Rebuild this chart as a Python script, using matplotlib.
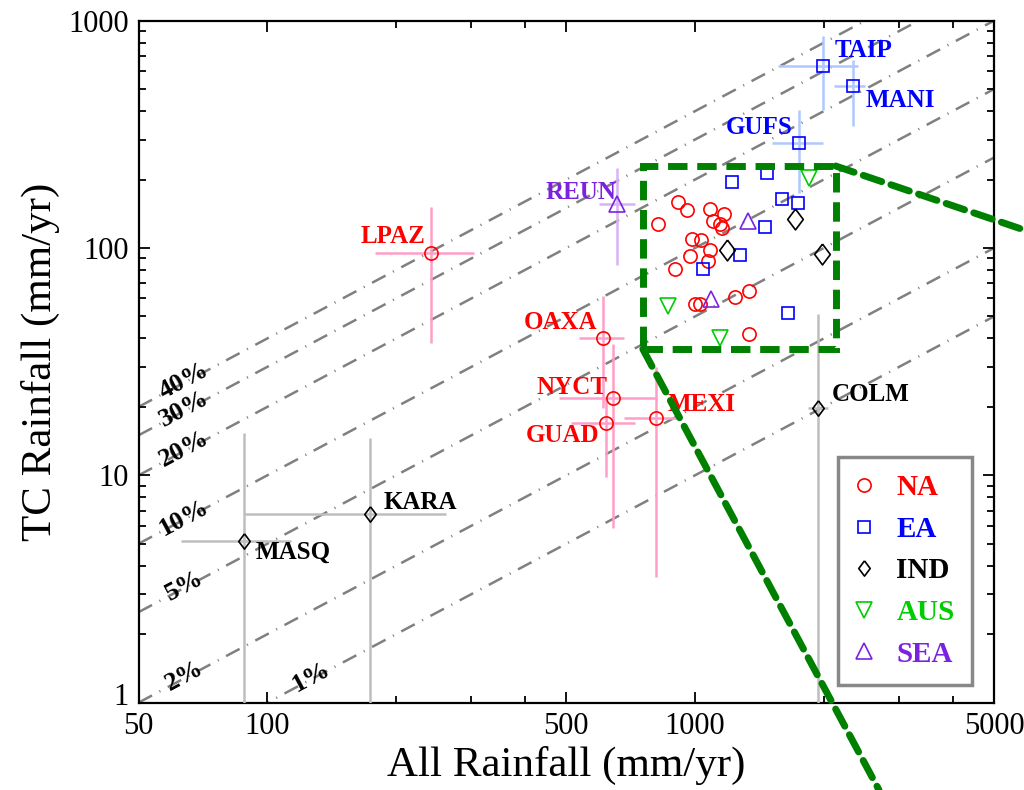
import numpy as np
import matplotlib.pyplot as plt
from matplotlib.lines import Line2D
from matplotlib.patches import Rectangle, ConnectionPatch
from matplotlib.transforms import ScaledTranslation

plt.rcParams['font.family'] = ['Liberation Serif', 'DejaVu Serif']
plt.rcParams['lines.scale_dashes'] = False

# ---- unlabelled stations (all rainfall, TC rainfall) in mm/yr
na_x = [820, 910, 960, 1082, 1167, 1102, 1142, 1159, 986, 1031, 1086, 975, 1072, 900, 998, 1025, 1243, 1335, 1335]
na_y = [127.5, 160, 147, 148, 141, 132, 127.5, 122, 110, 108, 98, 92, 88, 80.6, 56.7, 56.7, 61, 65, 41.7]
ea_x = [1220, 1476, 1594, 1738, 1460, 1274, 1042, 1653]
ea_y = [194.5, 214.5, 164, 157, 124, 93, 80.6, 51.6]
ind_x = [1188, 1716, 1984]
ind_y = [98, 134, 94]
aus_x = [866, 1145, 1851]
aus_y = [55.6, 40, 204]
sea_x = [1092, 1332]
sea_y = [59.8, 131]

# ---- labelled stations with error ranges
site_name = ['TAIP', 'MANI', 'GUFS', 'LPAZ', 'REUN', 'OAXA', 'NYCT', 'GUAD', 'MEXI', 'COLM', 'KARA', 'MASQ']
site_group = ['EA', 'EA', 'EA', 'NA', 'SEA', 'NA', 'NA', 'NA', 'NA', 'IND', 'IND', 'IND']
site_x = [1987, 2336, 1747, 241, 656, 610, 643, 618, 812, 1938, 174, 88.2]
site_y = [632, 516, 290, 95, 156, 40, 21.8, 17.0, 17.9, 19.7, 6.76, 5.16]
site_xlo = [1561, 2109, 1511, 178.5, 596, 536, 481, 512, 681, 1836, 88.2, 63]
site_xhi = [2400, 2491, 1987, 304, 723, 681, 812, 723, 929, 2045, 261.5, 113.4]
site_ylo = [405, 344, 175, 38.2, 84, 19.8, 5.85, 9.8, 3.58, 0.5, 0.5, 0.5]
site_yhi = [856, 672, 405, 151.5, 225, 61.5, 37.7, 22.1, 30.0, 51.2, 14.6, 15.3]

# constant TC fraction lines
frac = [0.4, 0.3, 0.2, 0.1, 0.05, 0.02, 0.01]
frac_label = ['40%', '30%', '20%', '10%', '5%', '2%', '1%']

# zoom box (all rainfall range, TC rainfall range)
box_x = [755, 2132]
box_y = [35.9, 229.5]

groups = ['NA', 'EA', 'IND', 'AUS', 'SEA']
mcol = {'NA': '#FF0000', 'EA': '#0000FF', 'IND': '#000000', 'AUS': '#00CC00', 'SEA': '#7B22E0'}
ecol = {'NA': '#FF9EC8', 'EA': '#AFC8FF', 'IND': '#BEBEBE', 'SEA': '#D9B3F5'}
diamond = [(0, 1), (0.75, 0), (0, -1), (-0.75, 0), (0, 1)]
mk = {'NA': ('o', 9.5), 'EA': ('s', 8), 'IND': (diamond, 15), 'AUS': ('v', 12), 'SEA': ('^', 12)}

fig = plt.figure(figsize=(10.24, 7.9), dpi=100)
ax = fig.add_axes([0.1353, 0.1106, 0.8354, 0.8632])
ax.set_xscale('log')
ax.set_yscale('log')
ax.set_xlim(50, 5000)
ax.set_ylim(1, 1000)

# percentage lines
xs = np.array([50, 5000])
for f, lab in zip(frac, frac_label):
    ax.plot(xs, f * xs, color='#808080', lw=1.8, ls=(0, (11, 6, 0.8, 6)), zorder=1)
    lx = 127 if lab == '1%' else 64
    ax.text(lx, f * lx * 1.02, lab, rotation=28, ha='center', va='center',
            fontsize=19, fontweight='bold', zorder=2)

# clustered stations
cl = {'NA': (na_x, na_y), 'EA': (ea_x, ea_y), 'IND': (ind_x, ind_y),
      'AUS': (aus_x, aus_y), 'SEA': (sea_x, sea_y)}
for g in groups:
    m, s = mk[g]
    ax.plot(cl[g][0], cl[g][1], ls='none', marker=m, ms=s, mfc='none',
            mec=mcol[g], mew=1.2, zorder=4)

# labelled stations
offs = {'TAIP': (8.6, 10.8, 'left'), 'MANI': (9.4, -10.1, 'left'),
        'GUFS': (-4.3, 10.8, 'right'), 'LPAZ': (-3.6, 12.2, 'right'),
        'REUN': (0, 8.6, 'right'), 'OAXA': (-4.3, 11.5, 'right'),
        'NYCT': (-4.3, 7.9, 'right'), 'GUAD': (-4.3, -9.4, 'right'),
        'MEXI': (7.9, 9.4, 'left'), 'COLM': (10, 10, 'left'),
        'KARA': (9.4, 8.6, 'left'), 'MASQ': (8.6, -8.6, 'left')}
for i, name in enumerate(site_name):
    g = site_group[i]
    x, y = site_x[i], site_y[i]
    ax.errorbar([x], [y],
                xerr=[[x - site_xlo[i]], [site_xhi[i] - x]],
                yerr=[[y - site_ylo[i]], [site_yhi[i] - y]],
                fmt='none', ecolor=ecol[g], elinewidth=1.8, capsize=0, zorder=3)
    m, s = mk[g]
    if g == 'IND':
        s = 11
    ax.plot([x], [y], ls='none', marker=m, ms=s, mfc='none', mec=mcol[g], mew=1.2, zorder=4)
    dx, dy, ha = offs[name]
    ax.annotate(name, (x, y), xytext=(dx, dy), textcoords='offset points',
                ha=ha, va='center', fontsize=18, fontweight='bold', color=mcol[g], zorder=5)

# zoom box and connectors
green = '#008000'
ax.add_patch(Rectangle((box_x[0], box_y[0]), box_x[1] - box_x[0], box_y[1] - box_y[0],
                       fill=False, ec=green, lw=5, ls=(0, (14, 7)), zorder=6))
for xyA, xyB in [((box_x[1], box_y[1]), (1.0, 0.709)), ((box_x[0], box_y[0]), (0.8584, 0.0))]:
    con = ConnectionPatch(xyA=xyA, coordsA=ax.transData, xyB=xyB, coordsB=fig.transFigure,
                          color=green, lw=5, ls=(0, (14, 7)), zorder=6)
    con.set_clip_on(False)
    fig.add_artist(con)

# axes styling
ax.set_xticks([50, 100, 500, 1000, 5000])
ax.set_xticklabels(['50', '100', '500', '1000', '5000'])
ax.set_xticks([200, 300, 400, 2000, 3000, 4000], minor=True)
ax.xaxis.set_minor_formatter(plt.NullFormatter())
ax.set_yticks([1, 10, 100, 1000])
ax.set_yticklabels(['1', '10', '100', '1000'])
ax.tick_params(which='both', direction='in', top=True, right=True, labelsize=22, width=1.3)
ax.tick_params(which='major', length=8, pad=7)
ax.tick_params(which='minor', length=5)
for sp in ax.spines.values():
    sp.set_linewidth(1.6)
ax.set_xlabel('All Rainfall (mm/yr)', fontsize=31, labelpad=3)
ax.set_ylabel('TC Rainfall (mm/yr)', fontsize=31, labelpad=6)

# lift the "1" on the y axis clear of the "50" below it, as in the original
lab1 = ax.get_yticklabels()[0]
lab1.set_transform(lab1.get_transform() + ScaledTranslation(0, 6 / 72, fig.dpi_scale_trans))

# legend
handles = [Line2D([], [], ls='none', marker=mk[g][0], ms=mk[g][1] if g != 'IND' else 11,
                  mfc='none', mec=mcol[g], mew=1.2) for g in groups]
leg = ax.legend(handles, groups, loc='lower left', bbox_to_anchor=(0.8177, 0.0258),
                borderaxespad=0, fancybox=False, framealpha=1, edgecolor='#888888',
                prop={'size': 21, 'weight': 'bold'}, handlelength=0.6, handletextpad=0.8,
                labelspacing=0.5, borderpad=0.6)
leg.get_frame().set_linewidth(2.5)
for t, g in zip(leg.get_texts(), groups):
    t.set_color(mcol[g])

fig.savefig('out.png', dpi=100)
